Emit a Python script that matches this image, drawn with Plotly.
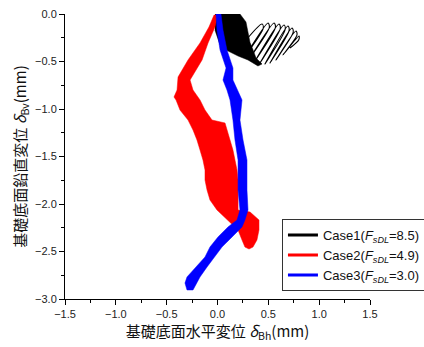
import plotly.graph_objects as go

# ---- data (mm) ----
case1_env_x = [-0.025, 0.221, 0.280, 0.300, 0.320, 0.350, 0.379, 0.438, 0.398, 0.300, 0.202, 0.084, 0.025, -0.025]
case1_env_y = [0.0, 0.0, -0.084, -0.180, -0.300, -0.380, -0.463, -0.526, -0.547, -0.484, -0.442, -0.379, -0.326, -0.168]

case1_loop_x = [0.300, 0.438, 0.450, 0.280, 0.497, 0.510, 0.320, 0.556, 0.570, 0.369, 0.605, 0.618,
                0.418, 0.654, 0.666, 0.467, 0.693, 0.705, 0.516, 0.733, 0.745, 0.575, 0.772, 0.782,
                0.644, 0.802, 0.800, 0.713]
case1_loop_y = [-0.250, -0.105, -0.150, -0.432, -0.095, -0.140, -0.463, -0.095, -0.140, -0.495, -0.105, -0.150,
                -0.516, -0.116, -0.160, -0.526, -0.126, -0.170, -0.516, -0.147, -0.190, -0.484, -0.179, -0.220,
                -0.432, -0.232, -0.270, -0.358]

case2_x = [-0.034, -0.084, -0.172, -0.290, -0.388, -0.398, -0.428, -0.408, -0.369, -0.290, -0.241,
           -0.202, -0.172, -0.143, -0.123, -0.123, -0.103, -0.074, -0.005, 0.103, 0.202, 0.241,
           0.270, 0.310, 0.349, 0.388, 0.408, 0.408, 0.320, 0.202, 0.202, 0.202, 0.202, 0.192,
           0.172, 0.152, 0.123, 0.093, 0.074, -0.054, -0.123, -0.172, -0.241, -0.270, -0.152,
           -0.093, -0.025, 0.005]
case2_y = [-0.011, -0.137, -0.305, -0.484, -0.663, -0.800, -0.874, -0.905, -1.011, -1.116, -1.221,
           -1.326, -1.432, -1.537, -1.642, -1.747, -1.853, -1.958, -2.063, -2.168, -2.274, -2.379,
           -2.453, -2.474, -2.453, -2.379, -2.274, -2.168, -2.084, -2.063, -1.958, -1.853, -1.747, -1.642,
           -1.537, -1.432, -1.326, -1.221, -1.147, -1.116, -1.011, -0.905, -0.800, -0.695, -0.484,
           -0.305, -0.137, 0.0]

case3_x = [-0.015, -0.005, 0.025, 0.084, 0.054, 0.093, 0.123, 0.152, 0.172, 0.202, 0.202, 0.221,
           0.192, 0.103, 0.005, -0.074, -0.123, -0.211, -0.300, -0.320, -0.300,
           -0.241, -0.202, -0.172, -0.103, -0.025, 0.044, 0.143, 0.241, 0.270, 0.300, 0.290,
           0.290, 0.290, 0.251, 0.221, 0.241, 0.152, 0.152, 0.093, 0.054, 0.034]
case3_y = [0.0, -0.168, -0.379, -0.568, -0.695, -0.800, -0.905, -1.116, -1.326, -1.537, -1.853, -2.063,
           -2.168, -2.242, -2.347, -2.453, -2.558, -2.663, -2.768, -2.832, -2.905,
           -2.905, -2.832, -2.768, -2.663, -2.558, -2.453, -2.347, -2.242, -2.168, -2.063, -1.853,
           -1.642, -1.537, -1.326, -1.116, -0.905, -0.695, -0.568, -0.379, -0.168, 0.0]

legend_names = ["Case1(<i>F</i><sub><i>sDL</i></sub>=8.5)",
                "Case2(<i>F</i><sub><i>sDL</i></sub>=4.9)",
                "Case3(<i>F</i><sub><i>sDL</i></sub>=3.0)"]
colors = ["#000000", "#ff0000", "#0000ff"]

fig = go.Figure()

fig.add_trace(go.Scatter(x=case1_env_x, y=case1_env_y, fill="toself", fillcolor="#000000",
                         mode="lines", line=dict(color="#000000", width=0.5), showlegend=False,
                         hoverinfo="skip"))
fig.add_trace(go.Scatter(x=case1_loop_x, y=case1_loop_y, mode="lines",
                         line=dict(color="#000000", width=1.1, shape="spline", smoothing=0.9),
                         showlegend=False, hoverinfo="skip"))
fig.add_trace(go.Scatter(x=case2_x, y=case2_y, fill="toself", fillcolor="#ff0000",
                         mode="lines", line=dict(color="#ff0000", width=0.5), showlegend=False,
                         hoverinfo="skip"))
fig.add_trace(go.Scatter(x=case3_x, y=case3_y, fill="toself", fillcolor="#0000ff",
                         mode="lines", line=dict(color="#0000ff", width=0.5), showlegend=False,
                         hoverinfo="skip"))

for name, c in zip(legend_names, colors):
    fig.add_trace(go.Scatter(x=[None], y=[None], mode="lines", name=name,
                             line=dict(color=c, width=3)))

axis_font = dict(family="Liberation Sans, Arial, sans-serif", size=11, color="#222222")
title_font = dict(family="Noto Sans CJK JP, sans-serif", size=15, color="#111111")

fig.update_layout(
    width=424, height=347,
    margin=dict(l=65, r=54, t=14, b=48, autoexpand=False),
    paper_bgcolor="white", plot_bgcolor="white",
    showlegend=True,
    legend=dict(xref="container", yref="container", x=0.665, y=0.161,
                xanchor="left", yanchor="bottom",
                bordercolor="#333333", borderwidth=1, bgcolor="white",
                font=dict(family="Liberation Sans, Arial, sans-serif", size=13, color="#111111"),
                itemwidth=30, tracegroupgap=0),
    xaxis=dict(range=[-1.5, 1.5], dtick=0.5, tick0=0, tickformat=".1f",
               ticks="outside", ticklen=5, tickwidth=1, tickcolor="#000",
               minor=dict(ticks="outside", dtick=0.25, ticklen=3, tickcolor="#000"),
               showline=True, linecolor="#000", linewidth=1, mirror=False,
               showgrid=False, zeroline=False, tickfont=axis_font,
               title=dict(text="基礎底面水平変位 <i>δ</i><sub>Bh</sub>(mm)", font=title_font, standoff=4)),
    yaxis=dict(range=[-3.0, 0.0], dtick=0.5, tick0=0, tickformat=".1f",
               ticks="outside", ticklen=5, tickwidth=1, tickcolor="#000",
               minor=dict(ticks="outside", dtick=0.25, ticklen=3, tickcolor="#000"),
               showline=True, linecolor="#000", linewidth=1, mirror=False,
               showgrid=False, zeroline=False, tickfont=axis_font,
               title=dict(text="基礎底面鉛直変位 <i>δ</i><sub>Bv</sub>(mm)", font=title_font, standoff=4)),
)

fig.write_html("out.html")
